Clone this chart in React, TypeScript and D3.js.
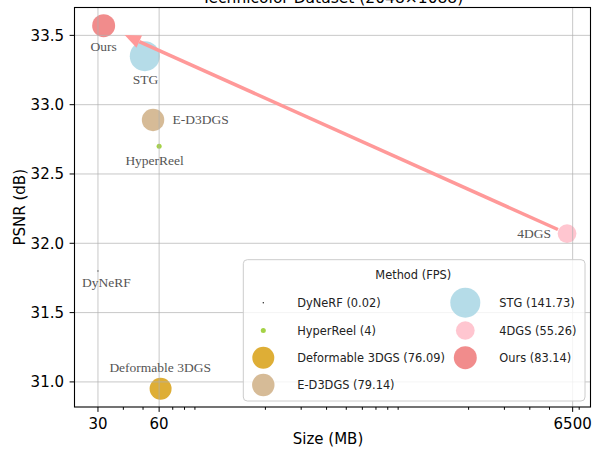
import React from "react";
import * as d3 from "d3";

// Technicolor results: size (MB) vs PSNR, bubble area = FPS
const methods = ["DyNeRF", "HyperReel", "Deformable 3DGS", "E-D3DGS", "STG", "4DGS", "Ours"];
const sizeMB = [30, 60, 61, 56, 51, 6100, 32];
const psnr = [31.8, 32.7, 30.95, 32.89, 33.35, 32.07, 33.57];
const fps = [0.02, 4, 76.09, 79.14, 141.73, 55.26, 83.14];
const colors = ["black", "yellowgreen", "goldenrod", "tan", "lightblue", "pink", "lightcoral"];

const xTicks = [30, 60, 6500];
const xMinorTicks = [40, 50, 70, 80, 90, 200, 300, 400, 500, 600, 700, 800, 900, 2000, 3000, 4000, 5000, 7000];
const yTicks = [31.0, 31.5, 32.0, 32.5, 33.0, 33.5];

const title = "Technicolor Dataset (2048×1088)";

// label placement around each bubble (dx, dy, anchor)
const labelPos = {
  DyNeRF: [8.5, 16, "middle"],
  HyperReel: [-4.5, 18.3, "middle"],
  "Deformable 3DGS": [-0.4, -16.6, "middle"],
  "E-D3DGS": [19.4, 4, "start"],
  STG: [0.7, 28.3, "middle"],
  "4DGS": [-16, 4.7, "end"],
  Ours: [0, 25.7, "middle"],
};

const App = () => {
  const W = 594,
    H = 451;
  const left = 74.5,
    right = 590.5,
    top = 7.5,
    bottom = 407;

  const data = methods.map((m, i) => ({
    name: m,
    size: sizeMB[i],
    psnr: psnr[i],
    fps: fps[i],
    color: colors[i],
  }));

  // matplotlib-style 5% margins (log space for x)
  const lx = d3.extent(sizeMB).map(Math.log10);
  const lpad = (lx[1] - lx[0]) * 0.05;
  const x = d3
    .scaleLog()
    .domain([Math.pow(10, lx[0] - lpad), Math.pow(10, lx[1] + lpad)])
    .range([left, right]);

  const ye = d3.extent(psnr);
  const ypad = (ye[1] - ye[0]) * 0.05;
  const y = d3
    .scaleLinear()
    .domain([ye[0] - ypad, ye[1] + ypad])
    .range([bottom, top]);

  const r = d3.scaleSqrt().domain([0, d3.max(fps)]).range([0, 15]);
  const rad = (v) => Math.max(r(v), 0.7);

  // arrow from 4DGS to Ours
  const from = data.find((d) => d.name === "4DGS");
  const to = data.find((d) => d.name === "Ours");
  const fx = x(from.size),
    fy = y(from.psnr),
    tx = x(to.size),
    ty = y(to.psnr);
  const len = Math.hypot(fx - tx, fy - ty);
  const ux = (fx - tx) / len,
    uy = (fy - ty) / len;
  const tipX = tx + ux * 23,
    tipY = ty + uy * 23;
  const tailX = fx - ux * 10,
    tailY = fy - uy * 10;
  const headL = 16,
    headW = 6.8;
  const bx = tipX + ux * headL,
    by = tipY + uy * headL;
  const head = [
    [tipX, tipY],
    [bx - uy * headW, by + ux * headW],
    [bx + uy * headW, by - ux * headW],
  ];

  // legend
  const lg = { x: 243.3, y: 259.7, w: 341.7, h: 141.3 };
  const col1 = methods.slice(0, 4);
  const col2 = methods.slice(4);
  const rowY = [302.7, 330.5, 357.7, 385];

  const sans = "DejaVu Sans, sans-serif";
  const serif = "Liberation Serif, Times New Roman, serif";

  const legendItem = (name, cx, tx, cy) => {
    const d = data.find((e) => e.name === name);
    return (
      <g key={name}>
        <circle cx={cx} cy={cy} r={rad(d.fps)} fill={d.color} opacity={0.9} />
        <text x={tx} y={cy + 4} fontSize={11.4} fontFamily={sans} fill="#222">
          {`${d.name} (${d.fps})`}
        </text>
      </g>
    );
  };

  return (
    <svg
      width={W}
      height={H}
      style={{ position: "fixed", left: 0, top: 0, background: "#fff" }}
    >
      <text x={(left + right) / 2} y={3} textAnchor="middle" fontSize={15.5} fontFamily={sans}>
        {title}
      </text>

      {data.map((d) => (
        <circle
          key={d.name}
          cx={x(d.size)}
          cy={y(d.psnr)}
          r={rad(d.fps)}
          fill={d.color}
          opacity={0.9}
        />
      ))}

      {/* grid drawn over the scatter like matplotlib */}
      <g stroke="#b0b0b0" strokeOpacity={0.7} strokeWidth={1}>
        {yTicks.map((t) => (
          <line key={t} x1={left} x2={right} y1={y(t)} y2={y(t)} />
        ))}
        {xTicks.map((t) => (
          <line key={t} x1={x(t)} x2={x(t)} y1={top} y2={bottom} />
        ))}
      </g>

      {data.map((d) => {
        const [dx, dy, anchor] = labelPos[d.name];
        return (
          <text
            key={d.name}
            x={x(d.size) + dx}
            y={y(d.psnr) + dy}
            textAnchor={anchor}
            fontSize={13.5}
            fontFamily={serif}
            fill="#555"
          >
            {d.name}
          </text>
        );
      })}

      <line x1={tailX} y1={tailY} x2={bx} y2={by} stroke="#ff9999" strokeWidth={3.5} />
      <polygon points={head.map((p) => p.join(",")).join(" ")} fill="#ff9999" />

      {/* axes */}
      <rect x={left} y={top} width={right - left} height={bottom - top} fill="none" stroke="#000" strokeWidth={1.1} />
      <g stroke="#000" strokeWidth={1}>
        {xTicks.map((t) => (
          <line key={t} x1={x(t)} x2={x(t)} y1={bottom} y2={bottom + 4.9} />
        ))}
        {xMinorTicks.map((t) => (
          <line key={t} x1={x(t)} x2={x(t)} y1={bottom} y2={bottom + 2.8} />
        ))}
        {yTicks.map((t) => (
          <line key={t} x1={left - 4.9} x2={left} y1={y(t)} y2={y(t)} />
        ))}
      </g>
      <g fontFamily={sans} fontSize={15} fill="#000">
        {xTicks.map((t) => (
          <text key={t} x={x(t)} y={428.5} textAnchor="middle">
            {t}
          </text>
        ))}
        {yTicks.map((t) => (
          <text key={t} x={64} y={y(t) + 5.3} textAnchor="end">
            {t.toFixed(1)}
          </text>
        ))}
        <text x={328} y={444} textAnchor="middle">
          Size (MB)
        </text>
        <text
          transform={`translate(24.5,${(top + bottom) / 2}) rotate(-90)`}
          textAnchor="middle"
        >
          PSNR (dB)
        </text>
      </g>

      {/* legend */}
      <rect
        x={lg.x}
        y={lg.y}
        width={lg.w}
        height={lg.h}
        rx={4}
        fill="#fff"
        fillOpacity={0.8}
        stroke="#cccccc"
        strokeWidth={1}
      />
      <text x={413.3} y={278.5} textAnchor="middle" fontSize={11.4} fontFamily={sans} fill="#222">
        Method (FPS)
      </text>
      {col1.map((m, i) => legendItem(m, 263.3, 297.3, rowY[i]))}
      {col2.map((m, i) => legendItem(m, 465.3, 499.3, rowY[i]))}
    </svg>
  );
};

export default App;
